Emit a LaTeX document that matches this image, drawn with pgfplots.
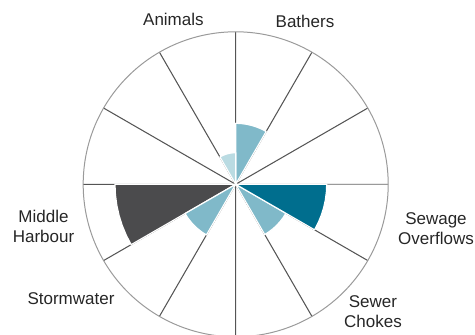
\documentclass[border=0pt]{standalone}
\usepackage{fontspec}
\setmainfont{Liberation Sans}
\usepackage{pgfplots}
\pgfplotsset{compat=1.18}
\usepgfplotslibrary{polar}
\definecolor{lightteal}{HTML}{80B9C9}
\definecolor{paleteal}{HTML}{BADBE2}
\definecolor{darkteal}{HTML}{006E8E}
\definecolor{darkgrey}{HTML}{4B4B4D}
\definecolor{spoke}{HTML}{555555}
\definecolor{rim}{HTML}{9A9A9A}
\begin{document}
\begin{tikzpicture}
\useasboundingbox (-235.7pt,-150.7pt) rectangle (239.3pt,184.3pt);
\begin{polaraxis}[
  at={(0pt,0pt)}, anchor=center,
  scale only axis, width=305pt, height=305pt,
  xmin=0, xmax=360, ymin=0, ymax=152.5,
  xtick={0,30,...,330}, xticklabels={},
  ytick=\empty,
  grid=major,
  major grid style={draw=spoke, line width=1.05pt},
  axis line style={draw=rim, line width=1pt},
  major tick length=0pt,
  every axis plot/.append style={line join=round},
]
% Bathers 60-90
\addplot[fill=lightteal, draw=white, line width=1.2pt] coordinates {
(60,0) (60,61) (65,61) (70,61) (75,61) (80,61) (85,61) (90,61) (90,0)};
% Animals 90-120
\addplot[fill=paleteal, draw=white, line width=1.2pt] coordinates {
(90,0) (90,31.6) (95,31.6) (100,31.6) (105,31.6) (110,31.6) (115,31.6) (120,31.6) (120,0)};
% Middle Harbour 180-210
\addplot[fill=darkgrey, draw=white, line width=1.2pt] coordinates {
(180,0) (180,120.7) (185,120.7) (190,120.7) (195,120.7) (200,120.7) (205,120.7) (210,120.7) (210,0)};
% Stormwater 210-240
\addplot[fill=lightteal, draw=white, line width=1.2pt] coordinates {
(210,0) (210,58.5) (215,58.5) (220,58.5) (225,58.5) (230,58.5) (235,58.5) (240,58.5) (240,0)};
% Sewer Chokes 300-330
\addplot[fill=lightteal, draw=white, line width=1.2pt] coordinates {
(300,0) (300,58) (305,58) (310,58) (315,58) (320,58) (325,58) (330,58) (330,0)};
% Sewage Overflows 330-360
\addplot[fill=darkteal, draw=white, line width=1.2pt] coordinates {
(330,0) (330,91) (335,91) (340,91) (345,91) (350,91) (355,91) (360,91) (360,0)};
\end{polaraxis}
\begin{scope}[every node/.style={font=\fontsize{17}{20}\selectfont, text=black!85, align=center, inner sep=0pt}]
\node at (-62.3pt,165.3pt) {Animals};
\node at (69.3pt,163.3pt) {Bathers};
\node at (200.3pt,-44.2pt) {Sewage\\Overflows};
\node at (137.3pt,-127.7pt) {Sewer\\Chokes};
\node at (-192.2pt,-42.2pt) {Middle\\Harbour};
\node at (-164.7pt,-114.7pt) {Stormwater};
\end{scope}
\end{tikzpicture}
\end{document}
